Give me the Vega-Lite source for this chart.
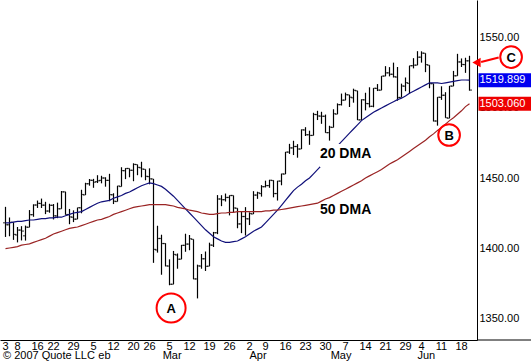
{
  "$schema": "https://vega.github.io/schema/vega-lite/v6.json",
  "width": 477,
  "height": 340,
  "autosize": {"type": "none"},
  "padding": {"left": 0, "top": 0, "right": 54, "bottom": 22},
  "background": "white",
  "config": {
    "view": {"stroke": null},
    "axis": {"labelFont": "Liberation Sans", "labelFontSize": 11, "labelColor": "black", "domainColor": "black", "grid": false, "ticks": false, "title": null},
    "text": {"font": "Liberation Sans"}
  },
  "datasets": {
    "ohlc": [
      {"t":0,"o":1418.0,"h":1429.4,"l":1407.9,"c":1416.6,"m20":1418,"m50":1399.5},
      {"t":1,"o":1416.6,"h":1421.8,"l":1408.4,"c":1418.3,"m20":1418,"m50":1400},
      {"t":2,"o":1418.3,"h":1418.3,"l":1405.8,"c":1409.7,"m20":1418.5,"m50":1400.5},
      {"t":3,"o":1409.3,"h":1415.0,"l":1404.0,"c":1412.8,"m20":1419,"m50":1401},
      {"t":4,"o":1412.8,"h":1415.6,"l":1405.4,"c":1412.1,"m20":1419,"m50":1402},
      {"t":5,"o":1408.7,"h":1416.0,"l":1405.3,"c":1414.9,"m20":1419.5,"m50":1402.5},
      {"t":6,"o":1414.8,"h":1427.1,"l":1414.8,"c":1423.8,"m20":1420,"m50":1403},
      {"t":7,"o":1423.8,"h":1431.2,"l":1422.3,"c":1430.7,"m20":1420,"m50":1404},
      {"t":8,"o":1430.7,"h":1433.9,"l":1428.6,"c":1431.9,"m20":1420.5,"m50":1405},
      {"t":9,"o":1431.8,"h":1435.3,"l":1428.6,"c":1430.6,"m20":1421,"m50":1406},
      {"t":10,"o":1430.6,"h":1433.0,"l":1424.2,"c":1426.4,"m20":1421,"m50":1407},
      {"t":11,"o":1426.4,"h":1431.6,"l":1425.2,"c":1430.5,"m20":1421.5,"m50":1408.5},
      {"t":12,"o":1430.5,"h":1431.4,"l":1420.4,"c":1423.0,"m20":1421.5,"m50":1410},
      {"t":13,"o":1422.9,"h":1432.4,"l":1421.3,"c":1428.0,"m20":1422,"m50":1411},
      {"t":14,"o":1428.0,"h":1440.7,"l":1428.0,"c":1440.1,"m20":1422,"m50":1412},
      {"t":15,"o":1440.1,"h":1440.2,"l":1423.8,"c":1423.9,"m20":1423,"m50":1413},
      {"t":16,"o":1423.9,"h":1427.9,"l":1417.0,"c":1422.2,"m20":1424,"m50":1414},
      {"t":17,"o":1422.0,"h":1426.9,"l":1418.5,"c":1420.6,"m20":1425,"m50":1414.5},
      {"t":18,"o":1420.6,"h":1428.8,"l":1420.6,"c":1428.8,"m20":1425.5,"m50":1415},
      {"t":19,"o":1428.7,"h":1441.6,"l":1424.8,"c":1438.2,"m20":1426,"m50":1416},
      {"t":20,"o":1437.9,"h":1446.6,"l":1437.9,"c":1445.9,"m20":1427.5,"m50":1417},
      {"t":21,"o":1445.9,"h":1449.3,"l":1444.5,"c":1448.4,"m20":1429,"m50":1418},
      {"t":22,"o":1448.3,"h":1449.4,"l":1443.0,"c":1447.0,"m20":1430.5,"m50":1419},
      {"t":23,"o":1447.4,"h":1452.0,"l":1446.4,"c":1448.0,"m20":1432,"m50":1420},
      {"t":24,"o":1448.3,"h":1451.6,"l":1446.2,"c":1450.0,"m20":1433,"m50":1420.5},
      {"t":25,"o":1450.0,"h":1450.5,"l":1443.8,"c":1448.3,"m20":1433.5,"m50":1421.5},
      {"t":26,"o":1448.3,"h":1453.0,"l":1433.4,"c":1438.1,"m20":1434,"m50":1422.5},
      {"t":27,"o":1438.0,"h":1439.1,"l":1431.4,"c":1433.4,"m20":1435.5,"m50":1424},
      {"t":28,"o":1433.2,"h":1444.4,"l":1433.2,"c":1444.3,"m20":1436.5,"m50":1425},
      {"t":29,"o":1443.9,"h":1457.7,"l":1443.9,"c":1455.3,"m20":1437.5,"m50":1426},
      {"t":30,"o":1455.2,"h":1457.0,"l":1449.2,"c":1456.8,"m20":1439,"m50":1427},
      {"t":31,"o":1456.8,"h":1456.8,"l":1450.5,"c":1455.5,"m20":1440,"m50":1428},
      {"t":32,"o":1455.5,"h":1460.5,"l":1447.7,"c":1459.7,"m20":1441.5,"m50":1429},
      {"t":33,"o":1459.6,"h":1459.6,"l":1452.0,"c":1457.6,"m20":1443,"m50":1429.5},
      {"t":34,"o":1457.3,"h":1461.6,"l":1450.5,"c":1456.4,"m20":1444.5,"m50":1430},
      {"t":35,"o":1456.2,"h":1456.2,"l":1448.4,"c":1451.2,"m20":1445.5,"m50":1430.5},
      {"t":36,"o":1451.0,"h":1456.9,"l":1445.5,"c":1449.4,"m20":1446.5,"m50":1431},
      {"t":37,"o":1449.3,"h":1449.3,"l":1389.4,"c":1399.0,"m20":1446,"m50":1431},
      {"t":38,"o":1398.6,"h":1415.9,"l":1396.7,"c":1406.8,"m20":1445,"m50":1431},
      {"t":39,"o":1406.8,"h":1409.5,"l":1380.9,"c":1403.2,"m20":1444,"m50":1431},
      {"t":40,"o":1403.2,"h":1403.4,"l":1386.9,"c":1387.2,"m20":1442,"m50":1431},
      {"t":41,"o":1387.1,"h":1391.9,"l":1373.4,"c":1374.1,"m20":1439.5,"m50":1430.5},
      {"t":42,"o":1374.1,"h":1397.9,"l":1374.1,"c":1395.4,"m20":1437,"m50":1430},
      {"t":43,"o":1395.0,"h":1396.1,"l":1385.2,"c":1392.0,"m20":1434,"m50":1429},
      {"t":44,"o":1392.0,"h":1402.2,"l":1392.0,"c":1401.9,"m20":1431,"m50":1428.5},
      {"t":45,"o":1401.9,"h":1410.2,"l":1397.3,"c":1402.8,"m20":1428,"m50":1428},
      {"t":46,"o":1402.8,"h":1409.3,"l":1398.4,"c":1406.6,"m20":1425,"m50":1427},
      {"t":47,"o":1406.2,"h":1406.2,"l":1377.7,"c":1377.9,"m20":1422,"m50":1426.5},
      {"t":48,"o":1377.9,"h":1388.1,"l":1364.0,"c":1387.2,"m20":1419,"m50":1426},
      {"t":49,"o":1387.1,"h":1395.7,"l":1385.2,"c":1392.3,"m20":1416,"m50":1425},
      {"t":50,"o":1392.3,"h":1397.5,"l":1383.6,"c":1386.9,"m20":1413,"m50":1424.5},
      {"t":51,"o":1387.0,"h":1403.8,"l":1387.0,"c":1402.1,"m20":1410.5,"m50":1424},
      {"t":52,"o":1402.0,"h":1411.5,"l":1400.7,"c":1410.9,"m20":1408,"m50":1424},
      {"t":53,"o":1410.9,"h":1437.8,"l":1409.9,"c":1435.0,"m20":1406.5,"m50":1424.5},
      {"t":54,"o":1435.0,"h":1437.7,"l":1429.9,"c":1434.5,"m20":1405,"m50":1425},
      {"t":55,"o":1434.5,"h":1438.9,"l":1433.2,"c":1436.1,"m20":1404,"m50":1425},
      {"t":56,"o":1436.1,"h":1437.6,"l":1423.3,"c":1437.5,"m20":1404,"m50":1425.5},
      {"t":57,"o":1437.5,"h":1437.5,"l":1425.5,"c":1428.6,"m20":1404.5,"m50":1425.5},
      {"t":58,"o":1428.4,"h":1428.4,"l":1414.1,"c":1417.2,"m20":1405,"m50":1426},
      {"t":59,"o":1417.2,"h":1426.2,"l":1410.6,"c":1422.5,"m20":1406.5,"m50":1426},
      {"t":60,"o":1422.5,"h":1429.2,"l":1408.9,"c":1420.9,"m20":1408,"m50":1426},
      {"t":61,"o":1420.8,"h":1425.5,"l":1416.4,"c":1424.6,"m20":1410,"m50":1426},
      {"t":62,"o":1424.3,"h":1440.6,"l":1424.3,"c":1437.8,"m20":1412,"m50":1426},
      {"t":63,"o":1437.8,"h":1440.2,"l":1435.1,"c":1439.4,"m20":1413.5,"m50":1426},
      {"t":64,"o":1438.9,"h":1444.9,"l":1436.7,"c":1443.8,"m20":1415,"m50":1426},
      {"t":65,"o":1443.8,"h":1448.1,"l":1443.3,"c":1444.6,"m20":1418,"m50":1426.5},
      {"t":66,"o":1444.6,"h":1448.7,"l":1443.0,"c":1448.4,"m20":1421,"m50":1426.5},
      {"t":67,"o":1448.2,"h":1448.4,"l":1436.2,"c":1438.9,"m20":1424,"m50":1427},
      {"t":68,"o":1438.9,"h":1448.0,"l":1433.9,"c":1447.8,"m20":1427,"m50":1427},
      {"t":69,"o":1447.8,"h":1453.1,"l":1444.8,"c":1452.9,"m20":1430.5,"m50":1427.5},
      {"t":70,"o":1452.8,"h":1468.6,"l":1452.8,"c":1468.5,"m20":1434,"m50":1428},
      {"t":71,"o":1468.5,"h":1474.4,"l":1467.2,"c":1471.5,"m20":1437.5,"m50":1428.5},
      {"t":72,"o":1471.5,"h":1476.6,"l":1466.4,"c":1472.5,"m20":1441,"m50":1429},
      {"t":73,"o":1472.5,"h":1474.2,"l":1464.5,"c":1470.7,"m20":1443.5,"m50":1429.5},
      {"t":74,"o":1470.7,"h":1484.7,"l":1470.7,"c":1484.4,"m20":1445.5,"m50":1430},
      {"t":75,"o":1484.3,"h":1486.3,"l":1480.0,"c":1480.9,"m20":1448,"m50":1430.5},
      {"t":76,"o":1480.9,"h":1483.8,"l":1473.7,"c":1480.4,"m20":1450,"m50":1431},
      {"t":77,"o":1480.4,"h":1496.6,"l":1480.4,"c":1495.4,"m20":1453,"m50":1431.5},
      {"t":78,"o":1495.3,"h":1498.0,"l":1491.4,"c":1494.3,"m20":1456,"m50":1432},
      {"t":79,"o":1494.2,"h":1497.3,"l":1488.7,"c":1494.1,"m20":1459,"m50":1433.5},
      {"t":80,"o":1494.1,"h":1495.3,"l":1482.3,"c":1482.4,"m20":1462.5,"m50":1435},
      {"t":81,"o":1482.4,"h":1487.3,"l":1476.7,"c":1486.3,"m20":1466,"m50":1436},
      {"t":82,"o":1486.1,"h":1499.1,"l":1486.1,"c":1495.9,"m20":1469.5,"m50":1437.5},
      {"t":83,"o":1495.6,"h":1503.3,"l":1495.6,"c":1502.4,"m20":1473,"m50":1439},
      {"t":84,"o":1502.4,"h":1510.3,"l":1501.8,"c":1505.6,"m20":1476,"m50":1440.5},
      {"t":85,"o":1505.6,"h":1511.0,"l":1505.5,"c":1509.5,"m20":1479,"m50":1442},
      {"t":86,"o":1509.4,"h":1509.4,"l":1500.7,"c":1507.7,"m20":1482,"m50":1443.5},
      {"t":87,"o":1507.3,"h":1513.8,"l":1503.8,"c":1512.6,"m20":1485,"m50":1445},
      {"t":88,"o":1512.3,"h":1512.3,"l":1491.4,"c":1491.5,"m20":1488,"m50":1446.5},
      {"t":89,"o":1491.5,"h":1506.2,"l":1491.5,"c":1505.9,"m20":1491,"m50":1448},
      {"t":90,"o":1505.8,"h":1510.9,"l":1498.3,"c":1503.2,"m20":1493,"m50":1450},
      {"t":91,"o":1503.1,"h":1514.8,"l":1500.4,"c":1501.2,"m20":1495,"m50":1451.5},
      {"t":92,"o":1501.2,"h":1514.2,"l":1500.5,"c":1514.1,"m20":1497,"m50":1453},
      {"t":93,"o":1514.0,"h":1517.1,"l":1512.1,"c":1512.8,"m20":1498.5,"m50":1454.5},
      {"t":94,"o":1512.7,"h":1522.8,"l":1512.7,"c":1522.8,"m20":1500,"m50":1456},
      {"t":95,"o":1522.8,"h":1529.9,"l":1522.7,"c":1525.1,"m20":1501.5,"m50":1458},
      {"t":96,"o":1525.1,"h":1529.2,"l":1522.6,"c":1524.1,"m20":1503,"m50":1460},
      {"t":97,"o":1524.1,"h":1532.4,"l":1521.8,"c":1522.3,"m20":1504.5,"m50":1461.5},
      {"t":98,"o":1522.1,"h":1529.3,"l":1505.2,"c":1507.5,"m20":1506,"m50":1463},
      {"t":99,"o":1507.5,"h":1517.4,"l":1507.5,"c":1515.7,"m20":1507,"m50":1465},
      {"t":100,"o":1515.6,"h":1521.8,"l":1512.0,"c":1518.1,"m20":1508.5,"m50":1467},
      {"t":101,"o":1517.6,"h":1530.2,"l":1510.1,"c":1530.2,"m20":1510.5,"m50":1469},
      {"t":102,"o":1530.2,"h":1535.6,"l":1528.3,"c":1530.6,"m20":1512,"m50":1471},
      {"t":103,"o":1530.6,"h":1540.6,"l":1530.6,"c":1536.3,"m20":1513.5,"m50":1473},
      {"t":104,"o":1536.3,"h":1540.5,"l":1532.4,"c":1539.2,"m20":1515,"m50":1475},
      {"t":105,"o":1539.1,"h":1539.1,"l":1525.6,"c":1531.0,"m20":1516.5,"m50":1477},
      {"t":106,"o":1530.6,"h":1530.6,"l":1514.1,"c":1517.4,"m20":1518,"m50":1479.5},
      {"t":107,"o":1517.4,"h":1517.4,"l":1490.4,"c":1490.7,"m20":1518,"m50":1481.5},
      {"t":108,"o":1490.7,"h":1507.8,"l":1487.4,"c":1507.7,"m20":1518,"m50":1484},
      {"t":109,"o":1507.6,"h":1515.5,"l":1505.8,"c":1509.1,"m20":1517.5,"m50":1486},
      {"t":110,"o":1509.1,"h":1511.3,"l":1493.0,"c":1493.0,"m20":1518,"m50":1488.5},
      {"t":111,"o":1492.7,"h":1515.7,"l":1492.7,"c":1515.7,"m20":1518.5,"m50":1491},
      {"t":112,"o":1515.6,"h":1526.5,"l":1515.6,"c":1523.0,"m20":1519,"m50":1493},
      {"t":113,"o":1523.0,"h":1538.7,"l":1523.0,"c":1532.9,"m20":1519.5,"m50":1495.5},
      {"t":114,"o":1532.9,"h":1535.4,"l":1529.3,"c":1531.1,"m20":1520,"m50":1498},
      {"t":115,"o":1531.0,"h":1535.9,"l":1525.1,"c":1533.7,"m20":1520,"m50":1501},
      {"t":116,"o":1533.7,"h":1537.3,"l":1512.4,"c":1512.8,"m20":1519.899,"m50":1503.06}
    ],
    "days": [
      {"t":0,"txt":"3"},{"t":3,"txt":"8"},{"t":8,"txt":"16"},{"t":12,"txt":"22"},{"t":17,"txt":"29"},
      {"t":22,"txt":"5"},{"t":27,"txt":"12"},{"t":32,"txt":"20"},{"t":36,"txt":"26"},
      {"t":41,"txt":"5"},{"t":46,"txt":"12"},{"t":51,"txt":"19"},{"t":56,"txt":"26"},
      {"t":61,"txt":"2"},{"t":65,"txt":"9"},{"t":70,"txt":"16"},{"t":75,"txt":"23"},{"t":80,"txt":"30"},
      {"t":85,"txt":"7"},{"t":90,"txt":"14"},{"t":95,"txt":"21"},{"t":100,"txt":"29"},
      {"t":104,"txt":"4"},{"t":109,"txt":"11"},{"t":114,"txt":"18"}
    ],
    "months": [
      {"t": -0.625, "txt": "© 2007 Quote LLC"},
      {"t": 23.2, "txt": "eb"},
      {"t": 39.3, "txt": "Mar"},
      {"t": 61, "txt": "Apr"},
      {"t": 81.3, "txt": "May"},
      {"t": 103, "txt": "Jun"}
    ],
    "labels": [
      {"t": 78.6, "v": 1467.1, "txt": "20 DMA"},
      {"t": 78.6, "v": 1427.1, "txt": "50 DMA"}
    ],
    "circles": [
      {"t": 41.4, "v": 1357.1, "lab": "A"},
      {"t": 110.9, "v": 1480.7, "lab": "B"},
      {"t": 126.4, "v": 1536.4, "lab": "C"}
    ],
    "tags": [
      {"v": 1519.899, "txt": "1519.899", "series": "20 DMA"},
      {"v": 1503.06, "txt": "1503.060", "series": "50 DMA"}
    ]
  },
  "layer": [
    {
      "data": {"name": "ohlc"},
      "mark": {"type": "rule", "color": "black", "strokeWidth": 1.2},
      "encoding": {
        "x": {"field": "t", "type": "quantitative", "scale": {"domain": [-1.375, 117.875], "nice": false, "zero": false, "padding": 0},
          "axis": {"orient": "bottom", "labels": false}},
        "y": {"field": "l", "type": "quantitative", "scale": {"domain": [1334.29, 1577.14], "nice": false, "zero": false, "padding": 0},
          "axis": {"orient": "right", "values": [1350,1400,1450,1500,1550], "format": ".2f", "labelPadding": 2, "labelAlign": "left"}},
        "y2": {"field": "h"}
      }
    },
    {
      "data": {"name": "ohlc"},
      "mark": {"type": "tick", "orient": "horizontal", "color": "black", "size": 2.5, "thickness": 1.2, "xOffset": -1.25},
      "encoding": {
        "x": {"field": "t", "type": "quantitative"},
        "y": {"field": "o", "type": "quantitative"}
      }
    },
    {
      "data": {"name": "ohlc"},
      "mark": {"type": "tick", "orient": "horizontal", "color": "black", "size": 2.5, "thickness": 1.2, "xOffset": 1.25},
      "encoding": {
        "x": {"field": "t", "type": "quantitative"},
        "y": {"field": "c", "type": "quantitative"}
      }
    },
    {
      "data": {"name": "ohlc"},
      "mark": {"type": "line", "color": "#10107a", "strokeWidth": 1.2},
      "encoding": {
        "x": {"field": "t", "type": "quantitative"},
        "y": {"field": "m20", "type": "quantitative"}
      }
    },
    {
      "data": {"name": "ohlc"},
      "mark": {"type": "line", "color": "#9a2424", "strokeWidth": 1.2},
      "encoding": {
        "x": {"field": "t", "type": "quantitative"},
        "y": {"field": "m50", "type": "quantitative"}
      }
    },
    {
      "data": {"values": [{"a": 1}]},
      "mark": {"type": "rect", "color": "white"},
      "encoding": {
        "x": {"datum": 78.6, "type": "quantitative"},
        "x2": {"datum": 92.4},
        "y": {"datum": 1474.3, "type": "quantitative"},
        "y2": {"datum": 1457.9}
      }
    },
    {
      "data": {"name": "labels"},
      "mark": {"type": "text", "align": "left", "baseline": "middle", "fontSize": 14, "fontWeight": "bold", "color": "black"},
      "encoding": {
        "x": {"field": "t", "type": "quantitative"},
        "y": {"field": "v", "type": "quantitative"},
        "text": {"field": "txt"}
      }
    },
    {
      "data": {"name": "circles"},
      "mark": {"type": "point", "shape": "circle", "filled": false, "color": "#ff0000", "strokeWidth": 2, "opacity": 1},
      "encoding": {
        "x": {"field": "t", "type": "quantitative"},
        "y": {"field": "v", "type": "quantitative"},
        "size": {"condition": {"test": "datum.lab === 'A'", "value": 841}, "value": 470}
      }
    },
    {
      "data": {"name": "circles"},
      "mark": {"type": "text", "align": "center", "baseline": "middle", "fontSize": 13, "fontWeight": "bold", "color": "black", "dy": 1},
      "encoding": {
        "x": {"field": "t", "type": "quantitative"},
        "y": {"field": "v", "type": "quantitative"},
        "text": {"field": "lab"}
      }
    },
    {
      "data": {"values": [{"a": 1}]},
      "mark": {"type": "rule", "color": "#ff0000", "strokeWidth": 2},
      "encoding": {
        "x": {"datum": 123.3, "type": "quantitative"},
        "x2": {"datum": 118.9},
        "y": {"datum": 1536.1, "type": "quantitative"},
        "y2": {"datum": 1532.9}
      }
    },
    {
      "data": {"values": [{"a": 1}]},
      "mark": {"type": "point", "shape": "triangle-left", "filled": true, "color": "#ff0000", "size": 90, "opacity": 1},
      "encoding": {
        "x": {"datum": 117.75, "type": "quantitative"},
        "y": {"datum": 1532.5, "type": "quantitative"}
      }
    },
    {
      "data": {"name": "tags"},
      "mark": {"type": "bar", "orient": "horizontal", "size": 14},
      "encoding": {
        "x": {"datum": 118.25, "type": "quantitative"},
        "x2": {"datum": 132},
        "y": {"field": "v", "type": "quantitative"},
        "color": {"field": "series", "type": "nominal", "scale": {"domain": ["20 DMA", "50 DMA"], "range": ["#0000f0", "#ee0000"]}, "legend": null}
      }
    },
    {
      "data": {"name": "tags"},
      "mark": {"type": "text", "align": "left", "baseline": "middle", "fontSize": 11, "color": "white"},
      "encoding": {
        "x": {"datum": 118.5, "type": "quantitative"},
        "y": {"field": "v", "type": "quantitative"},
        "text": {"field": "txt"}
      }
    },
    {
      "data": {"values": [{"a": 1}]},
      "mark": {"type": "rule", "color": "black", "strokeWidth": 1},
      "encoding": {
        "x": {"datum": 117.875, "type": "quantitative"},
        "x2": {"datum": 132},
        "y": {"datum": 1334.29, "type": "quantitative"}
      }
    },
    {
      "data": {"name": "days"},
      "mark": {"type": "text", "align": "center", "baseline": "middle", "fontSize": 11, "color": "black"},
      "encoding": {
        "x": {"field": "t", "type": "quantitative"},
        "y": {"datum": 1329.5, "type": "quantitative"},
        "text": {"field": "txt"}
      }
    },
    {
      "data": {"name": "months"},
      "mark": {"type": "text", "align": "left", "baseline": "middle", "fontSize": 11, "color": "black"},
      "encoding": {
        "x": {"field": "t", "type": "quantitative"},
        "y": {"datum": 1323.2, "type": "quantitative"},
        "text": {"field": "txt"}
      }
    }
  ]
}
